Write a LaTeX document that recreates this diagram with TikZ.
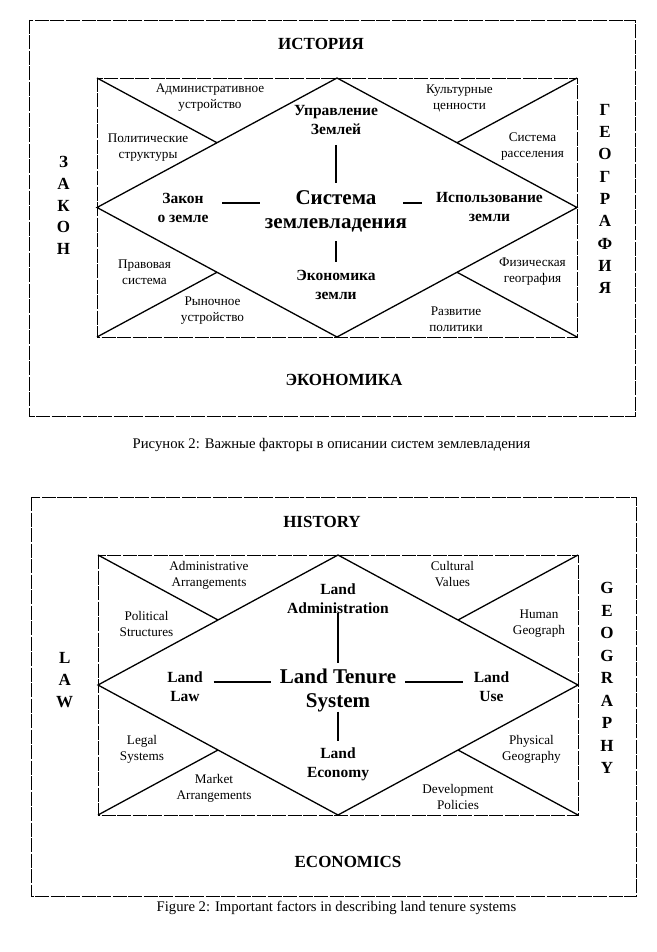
\documentclass[tikz,border=0pt]{standalone}
\usepackage{fontspec}
\setmainfont{Liberation Serif}
\usetikzlibrary{calc}
\begin{document}
\begin{tikzpicture}[x=1pt,y=-1pt,
  sm/.style={font=\fontsize{13.2}{16}\selectfont, align=center, inner sep=0pt},
  md/.style={font=\fontsize{15.5}{19}\selectfont\bfseries, align=center, inner sep=0pt},
  lg/.style={font=\fontsize{21}{24}\selectfont\bfseries, align=center, inner sep=0pt},
  ttl/.style={font=\fontsize{17}{20}\selectfont\bfseries, inner sep=0pt},
  vert/.style={font=\fontsize{17}{#1}\selectfont\bfseries, align=center, inner sep=0pt},
  captxt/.style={font=\fontsize{14.7}{17}\selectfont, inner sep=0pt},
  frame/.style={line width=0.9pt, dash pattern=on 14pt off 1.5pt},
  ln/.style={line width=1.3pt},
  conn/.style={line width=1.1pt}]
\useasboundingbox (0,0) rectangle (656,952);
\fill[white] (0,0) rectangle (656,952);

% ================= Russian figure =================
\coordinate (rOA) at (29,20);
\coordinate (rOB) at (635,416);
\draw[frame] (rOA) rectangle (rOB);
\coordinate (rTL) at (97,78);
\coordinate (rTR) at (577,78);
\coordinate (rBL) at (97,337);
\coordinate (rBR) at (577,337);
\coordinate (rT) at (337,78);
\coordinate (rB) at (337,337);
\coordinate (rL) at (97,207.5);
\coordinate (rR) at (577,207.5);
\draw[frame] (rTL) rectangle (rBR);
\draw[ln] (rL) -- (rT) -- (rR) -- (rB) -- cycle;
\draw[ln] (rTL) -- ($(rL)!0.5!(rT)$);
\draw[ln] (rTR) -- ($(rT)!0.5!(rR)$);
\draw[ln] (rBL) -- ($(rL)!0.5!(rB)$);
\draw[ln] (rBR) -- ($(rB)!0.5!(rR)$);

\node[ttl] (rHist) at (321,44) {ИСТОРИЯ};
\node[ttl] (rEcon) at (344,380) {ЭКОНОМИКА};
\node[vert=21.7] (rLaw) at (63.5,205.5) {З\\А\\К\\О\\Н};
\node[vert=22.3] (rGeo) at (605,199) {Г\\Е\\О\\Г\\Р\\А\\Ф\\И\\Я};

\node[sm] (rAdm) at (210,98) {Административное\\устройство};
\node[sm] (rPol) at (148,147.5) {Политические\\структуры};
\node[sm] (rCul) at (459.5,98) {Культурные\\ценности};
\node[sm] (rSet) at (532.5,147) {Система\\расселения};
\node[sm] (rLeg) at (144.5,272) {Правовая\\система};
\node[sm] (rMar) at (212.5,310.5) {Рыночное\\устройство};
\node[sm] (rPhy) at (532.5,271.5) {Физическая\\география};
\node[sm] (rDev) at (456,319.5) {Развитие\\политики};

\node[md] (rLA) at (336,120.5) {Управление\\Землей};
\node[md] (rLL) at (183,207.5) {Закон\\о земле};
\node[md] (rLU) at (489.5,207.5) {Использование\\земли};
\node[md] (rLE) at (336,284.5) {Экономика\\земли};
\node[lg] (rLT) at (336,211) {Система\\землевладения};

\coordinate (rc1a) at (222,203); \coordinate (rc1b) at (260,203);
\coordinate (rc2a) at (403,203); \coordinate (rc2b) at (422,203);
\coordinate (rc3a) at (336,145); \coordinate (rc3b) at (336,183);
\coordinate (rc4a) at (336,241); \coordinate (rc4b) at (336,262);
\draw[conn] (rc1a) -- (rc1b);
\draw[conn] (rc2a) -- (rc2b);
\draw[conn] (rc3a) -- (rc3b);
\draw[conn] (rc4a) -- (rc4b);

\node[captxt] (rCap) at (331.5,445) {Рисунок 2: Важные факторы в описании систем землевладения};

% ================= English figure =================
\coordinate (eOA) at (31,497);
\coordinate (eOB) at (636.5,896);
\draw[frame] (eOA) rectangle (eOB);
\coordinate (eTL) at (98,555);
\coordinate (eTR) at (578,555);
\coordinate (eBL) at (98,815);
\coordinate (eBR) at (578,815);
\coordinate (eT) at (338,555);
\coordinate (eB) at (338,815);
\coordinate (eL) at (98,685);
\coordinate (eR) at (578,685);
\draw[frame] (eTL) rectangle (eBR);
\draw[ln] (eL) -- (eT) -- (eR) -- (eB) -- cycle;
\draw[ln] (eTL) -- ($(eL)!0.5!(eT)$);
\draw[ln] (eTR) -- ($(eT)!0.5!(eR)$);
\draw[ln] (eBL) -- ($(eL)!0.5!(eB)$);
\draw[ln] (eBR) -- ($(eB)!0.5!(eR)$);

\node[ttl] (eHist) at (322,522) {HISTORY};
\node[ttl] (eEcon) at (348,862) {ECONOMICS};
\node[vert=22] (eLaw) at (64.7,680) {L\\A\\W};
\node[vert=22.5] (eGeo) at (607,678) {G\\E\\O\\G\\R\\A\\P\\H\\Y};

\node[sm] (eAdm) at (209,575.5) {Administrative\\Arrangements};
\node[sm] (ePol) at (146.5,624) {Political\\Structures};
\node[sm] (eCul) at (452.5,574.5) {Cultural\\Values};
\node[sm] (eHum) at (539,623.5) {Human\\Geograph};
\node[sm] (eLeg) at (142,749.5) {Legal\\Systems};
\node[sm] (eMar) at (214,788) {Market\\Arrangements};
\node[sm] (ePhy) at (531.5,749.5) {Physical\\Geography};
\node[sm] (eDev) at (458,796.5) {Development\\Policies};

\node[md] (eLA) at (338,598.5) {Land\\Administration};
\node[md] (eLL) at (185,686.5) {Land\\Law};
\node[md] (eLU) at (491.5,686.5) {Land\\Use};
\node[md] (eLE) at (338,764.5) {Land\\Economy};
\node[lg] (eLT) at (338,690) {Land Tenure\\System};

\coordinate (ec1a) at (213.5,682); \coordinate (ec1b) at (271,682);
\coordinate (ec2a) at (405,682); \coordinate (ec2b) at (462.5,682);
\coordinate (ec3a) at (338,612.5); \coordinate (ec3b) at (338,663);
\coordinate (ec4a) at (338,711.5); \coordinate (ec4b) at (338,741);
\draw[conn] (ec1a) -- (ec1b);
\draw[conn] (ec2a) -- (ec2b);
\draw[conn] (ec3a) -- (ec3b);
\draw[conn] (ec4a) -- (ec4b);

\node[captxt] (eCap) at (336.5,908) {Figure 2: Important factors in describing land tenure systems};
\end{tikzpicture}
\end{document}
